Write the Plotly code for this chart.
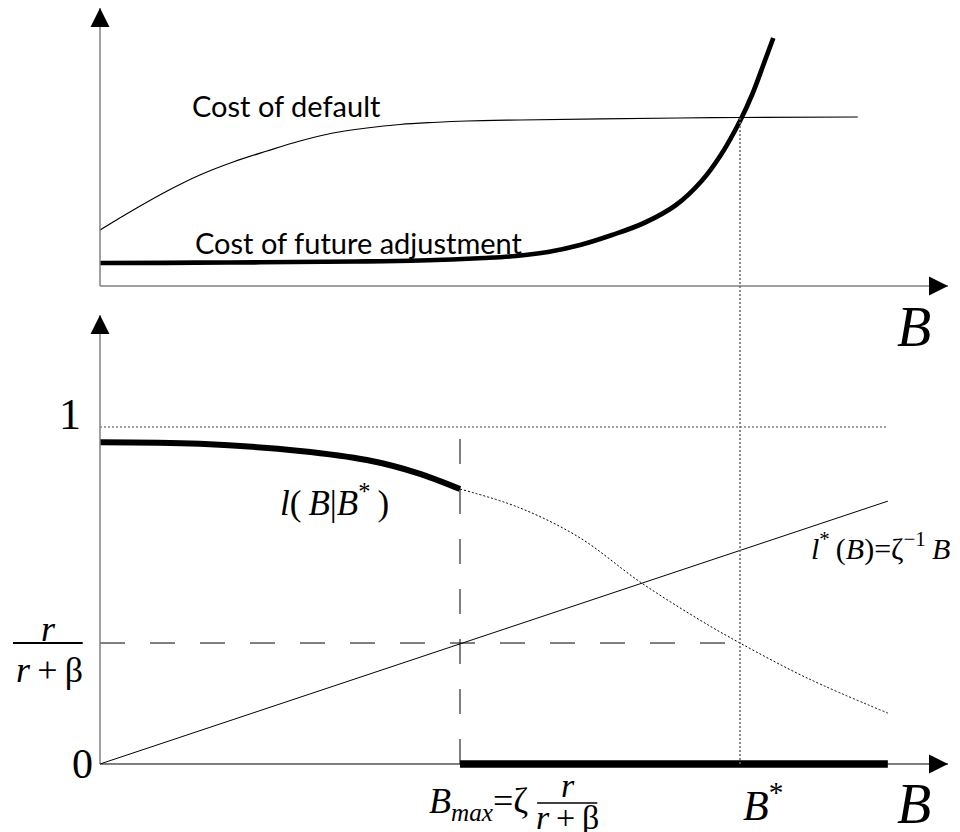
import plotly.graph_objs as go

# ---- data (B measured so that B* = 1) ----
B_star = 1.0
B_max = 0.5625
B_end = 1.231
r_ratio = 0.359          # r / (r + beta)

# top panel
B_default = [0, 0.052, 0.105, 0.156, 0.208, 0.261, 0.3125, 0.364, 0.417, 0.469, 0.52,
             0.573, 0.656, 0.906, 1.0, 1.184]
cost_default = [0.56, 0.76, 0.95, 1.11, 1.24, 1.35, 1.45, 1.53, 1.58, 1.615, 1.635,
                1.65, 1.66, 1.68, 1.685, 1.69]

B_adjust = [0, 0.1, 0.2, 0.3, 0.4, 0.5, 0.6, 0.65, 0.7, 0.75, 0.8, 0.85, 0.9, 0.94,
            0.97, 1.0, 1.02, 1.037, 1.052]
cost_adjust = [0.23, 0.232, 0.235, 0.24, 0.245, 0.255, 0.28, 0.30, 0.34, 0.41, 0.51, 0.63,
               0.81, 1.05, 1.31, 1.65, 1.93, 2.22, 2.48]

# bottom panel
B_l = [0, 0.156, 0.3125, 0.417, 0.495, 0.5625]
l_given = [0.955, 0.950, 0.929, 0.902, 0.864, 0.816]

B_l_dot = [0.5625, 0.656, 0.75, 0.844, 0.9375, 1.0, 1.105, 1.231]
l_dot = [0.816, 0.760, 0.671, 0.540, 0.427, 0.359, 0.255, 0.151]

B_line = [0, B_end]
l_star = [0, 0.78]

# ---- layout geometry (page body has an 8px margin) ----
OFF = 8
W, H = 952, 824
X0, XS = 100 - OFF, 640          # pixel of B=0, px per unit
x_range = [-0.02, 1.325]
x_dom = [(X0 + x_range[0] * XS) / W, (X0 + x_range[1] * XS) / W]

T0, TS = 286 - OFF, 100
t_range = [-0.05, 2.78]
t_dom = [1 - (T0 - t_range[0] * TS) / H, 1 - (T0 - t_range[1] * TS) / H]

L0, LS = 764 - OFF, 337
l_range = [-0.05, 1.332]
l_dom = [1 - (L0 - l_range[0] * LS) / H, 1 - (L0 - l_range[1] * LS) / H]


def top_paper(v):
    return t_dom[0] + (v - t_range[0]) / (t_range[1] - t_range[0]) * (t_dom[1] - t_dom[0])


def low_paper(v):
    return l_dom[0] + (v - l_range[0]) / (l_range[1] - l_range[0]) * (l_dom[1] - l_dom[0])


def x_paper(b):
    return x_dom[0] + (b - x_range[0]) / (x_range[1] - x_range[0]) * (x_dom[1] - x_dom[0])


SERIF = "Liberation Serif"
SANS = "Lato"
GRAY = "#808080"

fig = go.Figure()

# top panel curves
fig.add_trace(go.Scatter(x=B_default, y=cost_default, mode="lines",
                         line=dict(color="black", width=1.2, shape="spline", smoothing=1),
                         xaxis="x", yaxis="y"))
fig.add_trace(go.Scatter(x=B_adjust, y=cost_adjust, mode="lines",
                         line=dict(color="black", width=4.7, shape="spline", smoothing=1),
                         xaxis="x", yaxis="y"))

# bottom panel
fig.add_trace(go.Scatter(x=[0, B_end], y=[1, 1], mode="lines",
                         line=dict(color="#444", width=1, dash="2px,2px"), xaxis="x2", yaxis="y2"))
fig.add_trace(go.Scatter(x=[B_max, B_max], y=[0, 1], mode="lines",
                         line=dict(color="black", width=1, dash="25px,25px"), xaxis="x2", yaxis="y2"))
fig.add_trace(go.Scatter(x=[0, B_star], y=[r_ratio, r_ratio], mode="lines",
                         line=dict(color="black", width=1, dash="25px,25px"), xaxis="x2", yaxis="y2"))
fig.add_trace(go.Scatter(x=B_line, y=l_star, mode="lines",
                         line=dict(color="black", width=1), xaxis="x2", yaxis="y2"))
fig.add_trace(go.Scatter(x=B_l_dot, y=l_dot, mode="lines",
                         line=dict(color="black", width=1, dash="2px,2px", shape="spline"),
                         xaxis="x2", yaxis="y2"))
fig.add_trace(go.Scatter(x=B_l, y=l_given, mode="lines",
                         line=dict(color="black", width=6, shape="spline"), xaxis="x2", yaxis="y2"))
fig.add_trace(go.Scatter(x=[B_max, B_end], y=[0, 0], mode="lines",
                         line=dict(color="black", width=7.5), xaxis="x2", yaxis="y2"))

shapes = [
    # axes lines
    dict(type="line", xref="x", yref="y", x0=0, y0=0, x1=0, y1=t_range[1], line=dict(color=GRAY, width=1.5)),
    dict(type="line", xref="x", yref="y", x0=0, y0=0, x1=x_range[1], y1=0, line=dict(color=GRAY, width=1.5)),
    dict(type="line", xref="x2", yref="y2", x0=0, y0=0, x1=0, y1=l_range[1], line=dict(color=GRAY, width=1.5)),
    dict(type="line", xref="x2", yref="y2", x0=0, y0=0, x1=x_range[1], y1=0, line=dict(color="black", width=1)),
    # vertical dotted line at B*
    dict(type="line", xref="paper", yref="paper", x0=x_paper(B_star), x1=x_paper(B_star),
         y0=low_paper(0), y1=top_paper(cost_default[14]), line=dict(color="#666", width=1.5, dash="2px,2px")),
    # fraction bars
    dict(type="line", xref="paper", yref="paper", x0=x_paper(-0.136), x1=x_paper(-0.027),
         y0=low_paper(r_ratio), y1=low_paper(r_ratio), line=dict(color="black", width=2)),
    dict(type="line", xref="paper", yref="paper", x0=x_paper(0.683), x1=x_paper(0.777),
         y0=low_paper(-0.116), y1=low_paper(-0.116), line=dict(color="black", width=1.5)),
]

annotations = []
# arrow heads
for xr, yr, x, y, ax, ay in [
    ("x", "y", 0, t_range[1], 0, t_range[1] - 0.2),
    ("x", "y", x_range[1], 0, x_range[1] - 0.03, 0),
    ("x2", "y2", 0, l_range[1], 0, l_range[1] - 0.06),
    ("x2", "y2", x_range[1], 0, x_range[1] - 0.03, 0),
]:
    annotations.append(dict(xref=xr, yref=yr, axref=xr, ayref=yr, x=x, y=y, ax=ax, ay=ay, text="",
                            showarrow=True, arrowhead=2, arrowsize=3.8, arrowwidth=1, arrowcolor="black"))


def label(text, x, y, size, family=SERIF, xanchor="center"):
    annotations.append(dict(xref="paper", yref="paper", x=x, y=y, text=text, showarrow=False,
                            xanchor=xanchor, yanchor="middle",
                            font=dict(family=family, size=size, color="black")))


TS_ = "\u2009"  # thin space
label("Cost of default", x_paper(0.292), top_paper(1.81), 29, SANS)
label("Cost of future adjustment", x_paper(0.145), top_paper(0.44), 29, SANS, "left")
label("<i>B</i>", x_paper(1.272), top_paper(-0.41), 56)

label("1", x_paper(-0.047), low_paper(1.036), 44)
label("0", x_paper(-0.028), low_paper(0.0), 42)
label("<i>r</i>", x_paper(-0.081), low_paper(0.40), 36)
label("<i>r</i>" + TS_ + "+" + TS_ + "β", x_paper(-0.079), low_paper(0.279), 36)
label("<i>l</i>(" + TS_ + "<i>B</i>|<i>B</i><sup>*</sup>" + TS_ + ")", x_paper(0.367), low_paper(0.783), 35)
label("<i>l</i><sup>*</sup>" + TS_ + "(<i>B</i>)=ζ<sup>−1</sup>" + TS_ + "<i>B</i>",
      x_paper(1.219), low_paper(0.644), 30)
label("<i>B</i><sub><i>max</i></sub>=ζ", x_paper(0.591), low_paper(-0.116), 36)
label("<i>r</i>", x_paper(0.731), low_paper(-0.065), 34)
label("<i>r</i>" + TS_ + "+" + TS_ + "β", x_paper(0.73), low_paper(-0.160), 34)
label("<i>B</i><sup>*</sup>", x_paper(1.036), low_paper(-0.113), 42)
label("<i>B</i>", x_paper(1.272), low_paper(-0.118), 56)

ax_common = dict(showgrid=False, zeroline=False, showline=False, showticklabels=False, ticks="", fixedrange=True)

fig.update_layout(
    width=W, height=H,
    margin=dict(l=0, r=0, t=0, b=0),
    paper_bgcolor="white", plot_bgcolor="rgba(0,0,0,0)",
    showlegend=False, hovermode=False,
    xaxis=dict(domain=x_dom, range=x_range, anchor="y", **ax_common),
    yaxis=dict(domain=t_dom, range=t_range, anchor="x", **ax_common),
    xaxis2=dict(domain=x_dom, range=x_range, anchor="y2", **ax_common),
    yaxis2=dict(domain=l_dom, range=l_range, anchor="x2", **ax_common),
    shapes=shapes,
    annotations=annotations,
)

fig.write_html("out.html", config=dict(displayModeBar=False))
